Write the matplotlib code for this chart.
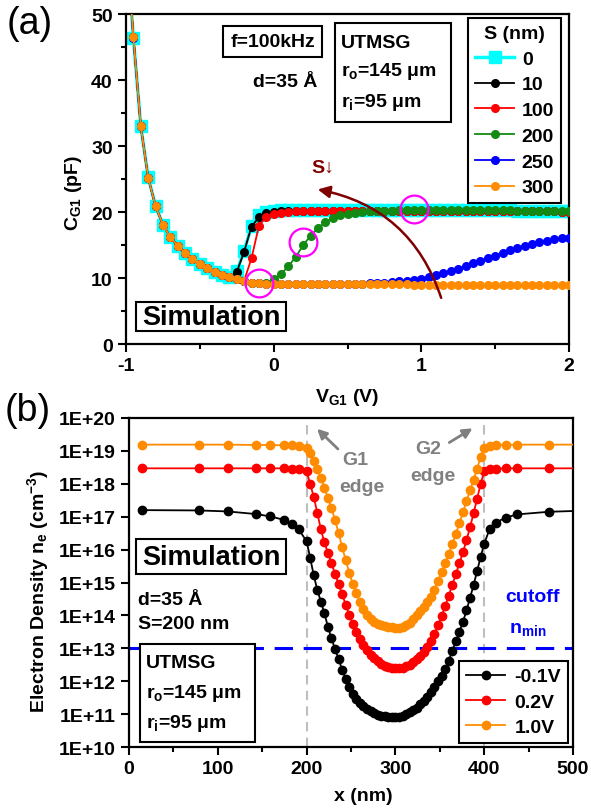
import numpy as np
import matplotlib
matplotlib.use('Agg')
import matplotlib.pyplot as plt
from matplotlib.patches import FancyArrowPatch, Rectangle
from matplotlib.ticker import FixedLocator, MultipleLocator, FuncFormatter, NullLocator

#fonts: Arial-like bold everywhere, subscripts in the same font
plt.rcParams['font.family'] = ['Liberation Sans', 'DejaVu Sans']
plt.rcParams['font.weight'] = 'bold'
plt.rcParams['axes.labelweight'] = 'bold'
plt.rcParams['font.size'] = 14
plt.rcParams['mathtext.default'] = 'regular'
plt.rcParams['axes.linewidth'] = 1.6
plt.rcParams['axes.unicode_minus'] = False

# ---------------- (a) C-V data ----------------
#gate voltage sweep, -1 V to 2 V in 0.05 V steps
v_g1 = np.linspace(-1.0, 2.0, 61)
s_labels = ['0', '10', '100', '200', '250', '300']

cap_s0 = [62.0, 46.3, 33.0, 25.3, 20.9, 18.1, 16.2, 14.9, 13.8, 12.9, 12.1, 11.5, 10.9, 10.5, 10.2,
          11.0, 14.1, 17.9, 19.5, 20.0, 20.2, 20.3, 20.3, 20.3, 20.3, 20.3, 20.3, 20.3, 20.3, 20.3,
          20.3, 20.3, 20.3, 20.3, 20.3, 20.3, 20.3, 20.3, 20.3, 20.3, 20.3, 20.3, 20.3, 20.3, 20.3,
          20.3, 20.3, 20.3, 20.3, 20.3, 20.3, 20.3, 20.3, 20.2, 20.2, 20.2, 20.2, 20.2, 20.2, 20.2, 20.2]
cap_s10 = [62.0, 46.5, 33.0, 25.2, 20.9, 18.1, 16.2, 14.9, 13.8, 12.9, 12.1, 11.5, 10.9, 10.5, 10.1,
           10.9, 14.0, 17.8, 19.2, 19.8, 20.0, 20.1, 20.2, 20.2, 20.2, 20.2, 20.2, 20.2, 20.2, 20.2,
           20.2, 20.2, 20.2, 20.2, 20.2, 20.2, 20.2, 20.2, 20.2, 20.2, 20.2, 20.2, 20.2, 20.2, 20.2,
           20.2, 20.2, 20.2, 20.2, 20.2, 20.2, 20.2, 20.2, 20.1, 20.1, 20.1, 20.1, 20.1, 20.1, 20.0, 20.0]
cap_s100 = [62.0, 46.5, 33.0, 25.2, 20.9, 18.1, 16.2, 14.9, 13.8, 12.9, 12.1, 11.5, 10.9, 10.5, 10.1,
            9.8, 9.6, 13.0, 17.9, 19.3, 19.7, 19.9, 20.0, 20.1, 20.1, 20.2, 20.2, 20.2, 20.2, 20.2,
            20.2, 20.2, 20.2, 20.2, 20.2, 20.2, 20.2, 20.2, 20.2, 20.2, 20.2, 20.2, 20.2, 20.2, 20.2,
            20.2, 20.2, 20.2, 20.2, 20.2, 20.2, 20.2, 20.2, 20.1, 20.1, 20.1, 20.1, 20.1, 20.1, 20.0, 20.0]
cap_s200 = [62.0, 46.5, 33.0, 25.2, 20.9, 18.1, 16.2, 14.9, 13.8, 12.9, 12.1, 11.5, 10.9, 10.5, 10.1,
            9.8, 9.5, 9.3, 9.2, 9.2, 9.9, 10.6, 11.8, 13.2, 15.0, 16.4, 17.6, 18.5, 19.1, 19.5,
            19.7, 19.9, 20.0, 20.1, 20.2, 20.2, 20.2, 20.3, 20.3, 20.3, 20.3, 20.3, 20.3, 20.3, 20.3,
            20.3, 20.3, 20.3, 20.3, 20.3, 20.3, 20.3, 20.3, 20.2, 20.2, 20.2, 20.2, 20.2, 20.2, 20.1, 20.1]
cap_s250 = [62.0, 46.4, 33.0, 25.2, 20.9, 18.1, 16.2, 14.9, 13.8, 12.9, 12.1, 11.5, 10.9, 10.5, 10.1,
            9.8, 9.5, 9.3, 9.2, 9.15, 9.12, 9.10, 9.10, 9.09, 9.09, 9.08, 9.08, 9.08, 9.08, 9.08,
            9.09, 9.10, 9.15, 9.2, 9.25, 9.3, 9.4, 9.5, 9.6, 9.75, 9.9, 10.15, 10.45, 10.75, 11.05,
            11.4, 11.8, 12.2, 12.6, 13.0, 13.4, 13.8, 14.2, 14.55, 14.9, 15.2, 15.45, 15.65, 15.85, 16.0, 16.1]
cap_s300 = [62.0, 46.5, 33.0, 25.2, 20.9, 18.1, 16.2, 14.9, 13.8, 12.9, 12.1, 11.5, 10.9, 10.5, 10.1,
            9.8, 9.5, 9.3, 9.2, 9.15, 9.12, 9.10, 9.10, 9.09, 9.09, 9.08, 9.08, 9.07, 9.07, 9.06,
            9.06, 9.05, 9.05, 9.04, 9.04, 9.03, 9.03, 9.02, 9.02, 9.01, 9.01, 9.00, 9.00, 8.99, 8.99,
            8.98, 8.98, 8.97, 8.96, 8.96, 8.95, 8.94, 8.94, 8.93, 8.92, 8.92, 8.91, 8.90, 8.90, 8.89, 8.88]
cap_series = [cap_s0, cap_s10, cap_s100, cap_s200, cap_s250, cap_s300]
cap_colors = ['#00FFFF', 'black', '#FF0000', '#138A13', '#0000FF', '#FF8C00']

# ---------------- (b) electron density data ----------------
x_nm = [15, 79, 111, 143, 159, 175, 183, 191] + list(range(200, 401, 4)) + [406, 413, 424, 437, 473, 509]
#log10 of n_e (cm^-3)
log_ne_m01 = [17.20, 17.19, 17.16, 17.08, 17.01, 16.90, 16.79, 16.62,
              16.25, 15.75, 15.22, 14.78, 14.42, 14.07, 13.65, 13.30, 12.98, 12.67, 12.35, 12.07, 11.81,
              11.60, 11.45, 11.34, 11.24, 11.15, 11.08, 11.02, 10.98, 10.95, 10.93, 10.91, 10.90, 10.90,
              10.91, 10.94, 10.99, 11.05, 11.12, 11.20, 11.30, 11.41, 11.53, 11.67, 11.83, 12.00, 12.17,
              12.37, 12.62, 12.92, 13.21, 13.50, 13.80, 14.15, 14.53, 14.92, 15.35, 15.78, 16.18,
              16.62, 16.82, 16.97, 17.07, 17.15, 17.18]
log_ne_02 = [18.47, 18.47, 18.47, 18.47, 18.47, 18.47, 18.46, 18.45,
             18.38, 18.00, 17.60, 17.12, 16.62, 16.22, 15.90, 15.58, 15.27, 14.95, 14.64, 14.33, 14.02,
             13.74, 13.50, 13.28, 13.10, 12.94, 12.81, 12.70, 12.61, 12.53, 12.47, 12.43, 12.40, 12.39,
             12.39, 12.41, 12.45, 12.50, 12.57, 12.66, 12.77, 12.90, 13.05, 13.23, 13.45, 13.70, 13.98,
             14.28, 14.60, 14.92, 15.25, 15.58, 15.92, 16.28, 16.68, 17.10, 17.55, 18.00, 18.38,
             18.44, 18.46, 18.47, 18.47, 18.47, 18.47]
log_ne_10 = [19.19, 19.19, 19.19, 19.18, 19.18, 19.17, 19.17, 19.16,
             19.08, 18.93, 18.70, 18.45, 18.17, 17.88, 17.58, 17.25, 16.90, 16.50, 16.08, 15.68, 15.30,
             14.95, 14.67, 14.42, 14.20, 14.02, 13.90, 13.81, 13.75, 13.70, 13.67, 13.65, 13.64, 13.63,
             13.63, 13.65, 13.70, 13.78, 13.88, 14.00, 14.12, 14.26, 14.40, 14.55, 14.78, 15.05, 15.32,
             15.58, 15.86, 16.17, 16.48, 16.80, 17.13, 17.47, 17.80, 18.12, 18.46, 18.82, 19.10,
             19.16, 19.18, 19.19, 19.19, 19.19, 19.19]
ne_labels = ['-0.1V', '0.2V', '1.0V']
ne_series = [log_ne_m01, log_ne_02, log_ne_10]
ne_colors = ['black', '#FF0000', '#FF8C00']
gate_edges = [200, 400]
n_min = 1e13

fig = plt.figure(figsize=(5.91, 8.12), dpi=100)
ax1 = fig.add_axes([0.2132, 0.5751, 0.7496, 0.4064])
ax2 = fig.add_axes([0.2183, 0.0788, 0.7513, 0.4052])

#---- panel (a)
for i, (vals, col, lab) in enumerate(zip(cap_series, cap_colors, s_labels)):
    if i == 0:
        ax1.plot(v_g1, vals, color=col, marker='s', ms=8, lw=2.5, label=lab, zorder=2)
    else:
        ax1.plot(v_g1, vals, color=col, marker='o', ms=5.5, lw=1.3, label=lab, zorder=2 + i)

#highlight circles on the S=300 and S=200 curves
hl_v = [v_g1[18], v_g1[24], v_g1[39]]
hl_c = [cap_s300[18], cap_s200[24] + 0.4, cap_s200[39] + 0.2]
ax1.plot(hl_v, hl_c, ls='none', marker='o', ms=20, mfc='none', mec='#FF00FF', mew=1.6, zorder=10)

arr = FancyArrowPatch((1.14, 6.6), (0.28, 23.5), connectionstyle='arc3,rad=0.3',
                      arrowstyle='-|>', mutation_scale=18, lw=1.8, color='#800000', zorder=11)
ax1.add_patch(arr)
ax1.text(0.33, 26.8, 'S↓', color='#800000', ha='center', va='center', fontsize=14)

ax1.set_xlim(-1, 2)
ax1.set_ylim(0, 50)
ax1.xaxis.set_major_locator(MultipleLocator(1))
ax1.xaxis.set_minor_locator(MultipleLocator(0.5))
ax1.yaxis.set_major_locator(MultipleLocator(10))
ax1.yaxis.set_minor_locator(MultipleLocator(5))
ax1.set_xlabel('V$_{G1}$ (V)', fontsize=14)
ax1.set_ylabel('C$_{G1}$ (pF)', fontsize=14)
ax1.xaxis.set_label_coords(0.5, -0.128)
ax1.yaxis.set_label_coords(-0.095, 0.46)

leg1 = ax1.legend(title='S (nm)', loc='upper right', bbox_to_anchor=(0.982, 0.988), borderaxespad=0,
                  fancybox=False, framealpha=1, edgecolor='black', fontsize=14, title_fontsize=14,
                  handlelength=2.0, labelspacing=0.42, borderpad=0.35, handletextpad=0.4)
leg1.get_frame().set_linewidth(1.5)
leg1.get_title().set_fontweight('bold')

box_kw = dict(boxstyle='square,pad=0.35', fc='white', ec='black', lw=1.5)
ax1.text(0.3307, 0.9167, 'f=100kHz', transform=ax1.transAxes, ha='center', va='center', bbox=box_kw)
ax1.text(0.359, 0.797, 'd=35 Å', transform=ax1.transAxes, ha='center', va='center')

ax1.add_patch(Rectangle((0.4718, 0.6727), 0.2619, 0.30, transform=ax1.transAxes,
                        fc='white', ec='black', lw=1.5, zorder=12))
ax1.text(0.4853, 0.90, 'UTMSG', transform=ax1.transAxes, va='baseline', zorder=13)
ax1.text(0.4853, 0.815, 'r$_o$=145 μm', transform=ax1.transAxes, va='baseline', zorder=13)
ax1.text(0.4853, 0.721, 'r$_i$=95 μm', transform=ax1.transAxes, va='baseline', zorder=13)

ax1.add_patch(Rectangle((0.0226, 0.0394), 0.3386, 0.0879, transform=ax1.transAxes,
                        fc='white', ec='black', lw=1.5, zorder=12))
ax1.text(0.1919, 0.0833, 'Simulation', transform=ax1.transAxes, ha='center', va='center',
         fontsize=19.5, zorder=13)

#---- panel (b)
for vals, col, lab in zip(ne_series, ne_colors, ne_labels):
    ax2.plot(x_nm, 10 ** np.array(vals), color=col, marker='o', ms=6, lw=1.3, label=lab, zorder=4)

for xe in gate_edges:
    ax2.axvline(xe, color='#BEBEBE', lw=1.5, dashes=(4.5, 3), zorder=1)
ax2.axhline(n_min, color='#0000FF', lw=2.2, dashes=(6, 3.5), zorder=2)

ax2.set_yscale('log')
ax2.set_xlim(0, 500)
ax2.set_ylim(1e10, 1e20)
ax2.yaxis.set_major_locator(FixedLocator([10.0 ** k for k in range(10, 21)]))
ax2.yaxis.set_minor_locator(NullLocator())
ax2.yaxis.set_major_formatter(FuncFormatter(lambda v, p: '1E+%d' % round(np.log10(v))))
ax2.xaxis.set_major_locator(MultipleLocator(100))
ax2.xaxis.set_minor_locator(MultipleLocator(50))
ax2.set_xlabel('x (nm)', fontsize=14)
ax2.set_ylabel('Electron Density n$_e$ (cm$^{-3}$)', fontsize=14)
ax2.xaxis.set_label_coords(0.527, -0.121)
ax2.yaxis.set_label_coords(-0.175, 0.477)

leg2 = ax2.legend(loc='lower right', bbox_to_anchor=(0.989, 0.012), borderaxespad=0,
                  fancybox=False, framealpha=1, edgecolor='black', fontsize=14,
                  handlelength=2.0, labelspacing=0.4, borderpad=0.35, handletextpad=0.5)
leg2.get_frame().set_linewidth(1.5)

ax2.add_patch(Rectangle((0.0158, 0.5258), 0.3378, 0.1064, transform=ax2.transAxes,
                        fc='white', ec='black', lw=1.5, zorder=12))
ax2.text(0.1847, 0.579, 'Simulation', transform=ax2.transAxes, ha='center', va='center',
         fontsize=19.5, zorder=13)
ax2.text(0.0203, 0.4498, 'd=35 Å', transform=ax2.transAxes, va='center')
ax2.text(0.0203, 0.3739, 'S=200 nm', transform=ax2.transAxes, va='center')

ax2.add_patch(Rectangle((0.0248, 0.0152), 0.259, 0.2979, transform=ax2.transAxes,
                        fc='white', ec='black', lw=1.5, zorder=12))
ax2.text(0.0383, 0.243, 'UTMSG', transform=ax2.transAxes, va='baseline', zorder=13)
ax2.text(0.0383, 0.152, 'r$_o$=145 μm', transform=ax2.transAxes, va='baseline', zorder=13)
ax2.text(0.0383, 0.0608, 'r$_i$=95 μm', transform=ax2.transAxes, va='baseline', zorder=13)

gray = '#808080'
ax2.text(0.509, 0.875, 'G1', transform=ax2.transAxes, ha='center', va='center', color=gray)
ax2.text(0.525, 0.793, 'edge', transform=ax2.transAxes, ha='center', va='center', color=gray)
ax2.text(0.673, 0.906, 'G2', transform=ax2.transAxes, ha='center', va='center', color=gray)
ax2.text(0.685, 0.824, 'edge', transform=ax2.transAxes, ha='center', va='center', color=gray)
ax2.annotate('', xy=(0.419, 0.973), xytext=(0.475, 0.900), xycoords='axes fraction',
             arrowprops=dict(arrowstyle='-|>', color=gray, lw=2, mutation_scale=14))
ax2.annotate('', xy=(0.779, 0.973), xytext=(0.716, 0.921), xycoords='axes fraction',
             arrowprops=dict(arrowstyle='-|>', color=gray, lw=2, mutation_scale=14))
ax2.text(0.9077, 0.456, 'cutoff', transform=ax2.transAxes, ha='center', va='center', color='#0000FF')
ax2.text(0.8986, 0.3587, 'n$_{min}$', transform=ax2.transAxes, ha='center', va='center', color='#0000FF')

for ax in (ax1, ax2):
    ax.tick_params(which='both', direction='out', width=1.5, top=False, right=False, labelsize=14)
    ax.tick_params(which='major', length=6)
    ax.tick_params(which='minor', length=3.5)
    for lbl in ax.get_xticklabels() + ax.get_yticklabels():
        lbl.set_fontweight('bold')

fig.text(0.051, 0.970, '(a)', ha='center', va='center', fontsize=27, fontweight='normal')
fig.text(0.047, 0.494, '(b)', ha='center', va='center', fontsize=27, fontweight='normal')

fig.savefig('out.png', dpi=100)
